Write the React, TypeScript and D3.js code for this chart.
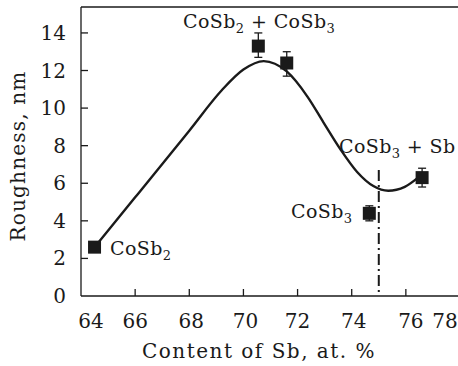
import * as d3 from 'd3';

// measured samples
const sampleSb = [64.5, 70.55, 71.6, 74.65, 76.6];
const sampleRough = [2.6, 13.3, 12.4, 4.4, 6.3];
const errLow = [2.6, 12.7, 11.7, 4.0, 5.8];
const errHigh = [2.6, 14.0, 13.0, 4.8, 6.8];

// guide-to-the-eye curve
const fitSb = [64.5, 66, 68, 69.2, 70.0, 70.75, 71.6, 72.37, 72.96, 73.59, 74.2, 74.8, 75.35, 75.96, 76.45];
const fitRough = [2.6, 5.25, 8.8, 10.95, 12.05, 12.5, 11.95, 10.6, 9.23, 7.79, 6.6, 5.85, 5.6, 5.81, 6.3];

const xTicks = [64, 66, 68, 70, 72, 74, 76, 78];
const yTicks = [0, 2, 4, 6, 8, 10, 12, 14];
const phaseBoundary = 75;
const boundaryTop = 6.7;

// phase labels: [text, subscript] pairs, anchored in data units
const labels: { parts: [string, string][]; x: number; y: number }[] = [
  { parts: [['CoSb', '2'], [' + CoSb', '3']], x: 67.77, y: 14.26 },
  { parts: [['CoSb', '3'], [' + Sb', '']], x: 73.53, y: 7.61 },
  { parts: [['CoSb', '3']], x: 71.76, y: 4.15 },
  { parts: [['CoSb', '2']], x: 65.07, y: 2.18 }
];

const width = 458;
const height = 366;
const ink = '#1a1a1a';
const font = 'DejaVu Serif';
const fs = 20;

export default function App() {
  const x = d3.scaleLinear().domain([64, 78]).range([81, 460]);
  const y = d3.scaleLinear().domain([0, 15.38]).range([296, 7]);

  const fit = fitSb.map((v, i) => [v, fitRough[i]] as [number, number]);
  const curve = d3.line<[number, number]>()
    .x(d => x(d[0]))
    .y(d => y(d[1]))
    .curve(d3.curveMonotoneX)(fit) || '';

  // a few tick labels were hand-nudged in the original figure
  const xShift: Record<number, number> = { 64: 10, 68: 2, 70: 2, 74: 2, 76: 5, 78: -15 };
  const size = 13;
  const x0 = x(64);
  const y0 = y(0);

  return (
    <svg width={width} height={height} fontFamily={font} fontSize={fs}
      style={{ position: 'absolute', left: 0, top: 0 }}>
      {/* frame */}
      <line x1={x0} x2={width} y1={7} y2={7} stroke={ink} strokeWidth={1.3} />
      <line x1={x0} x2={width} y1={y0} y2={y0} stroke={ink} strokeWidth={1.3} />
      <line x1={x0} x2={x0} y1={7} y2={y0} stroke={ink} strokeWidth={1.3} />

      {/* x axis */}
      {xTicks.map(t => (
        <g key={'x' + t}>
          {t > 64 && <line x1={x(t)} x2={x(t)} y1={y0} y2={y0 - 7} stroke={ink} strokeWidth={1.3} />}
          <text x={x(t) + (xShift[t] || 0)} y={328} textAnchor="middle" fill={ink}>{t}</text>
        </g>
      ))}

      {/* y axis */}
      {yTicks.map(t => (
        <g key={'y' + t}>
          {t > 0 && <line x1={x0} x2={x0 + 7} y1={y(t)} y2={y(t)} stroke={ink} strokeWidth={1.3} />}
          <text x={66} y={y(t) + 7} textAnchor="end" fill={ink}>{t}</text>
        </g>
      ))}

      {/* axis titles */}
      <text x={259} y={358} textAnchor="middle" fill={ink} letterSpacing={1.5}>Content of Sb, at. %</text>
      <text transform="rotate(-90)" x={-156} y={25} textAnchor="middle" fill={ink} letterSpacing={1.2}>Roughness, nm</text>

      {/* phase boundary */}
      <line x1={x(phaseBoundary)} x2={x(phaseBoundary)} y1={y(boundaryTop)} y2={y0}
        stroke={ink} strokeWidth={2} strokeDasharray="11,4,2,4" />

      {/* fitted curve */}
      <path d={curve} fill="none" stroke={ink} strokeWidth={2.4} />

      {/* error bars */}
      {sampleSb.map((v, i) => errHigh[i] === errLow[i] ? null : (
        <g key={'e' + i} stroke={ink} strokeWidth={1.3}>
          <line x1={x(v)} x2={x(v)} y1={y(errLow[i])} y2={y(errHigh[i])} />
          <line x1={x(v) - 4} x2={x(v) + 4} y1={y(errLow[i])} y2={y(errLow[i])} />
          <line x1={x(v) - 4} x2={x(v) + 4} y1={y(errHigh[i])} y2={y(errHigh[i])} />
        </g>
      ))}

      {/* markers */}
      {sampleSb.map((v, i) => (
        <rect key={'m' + i} x={x(v) - size / 2} y={y(sampleRough[i]) - size / 2}
          width={size} height={size} fill={ink} />
      ))}

      {/* phase labels */}
      {labels.map((lab, i) => (
        <text key={'l' + i} x={x(lab.x)} y={y(lab.y)} fill={ink} fontSize={19}
          letterSpacing={0.4} style={{ whiteSpace: 'pre' }}>
          {lab.parts.map(([main, sub], j) => [
            <tspan key={j + 'a'} dy={j > 0 && lab.parts[j - 1][1] ? -5 : 0}>{main}</tspan>,
            sub ? <tspan key={j + 'b'} dy={5} fontSize={13}>{sub}</tspan> : null
          ])}
        </text>
      ))}
    </svg>
  );
}
